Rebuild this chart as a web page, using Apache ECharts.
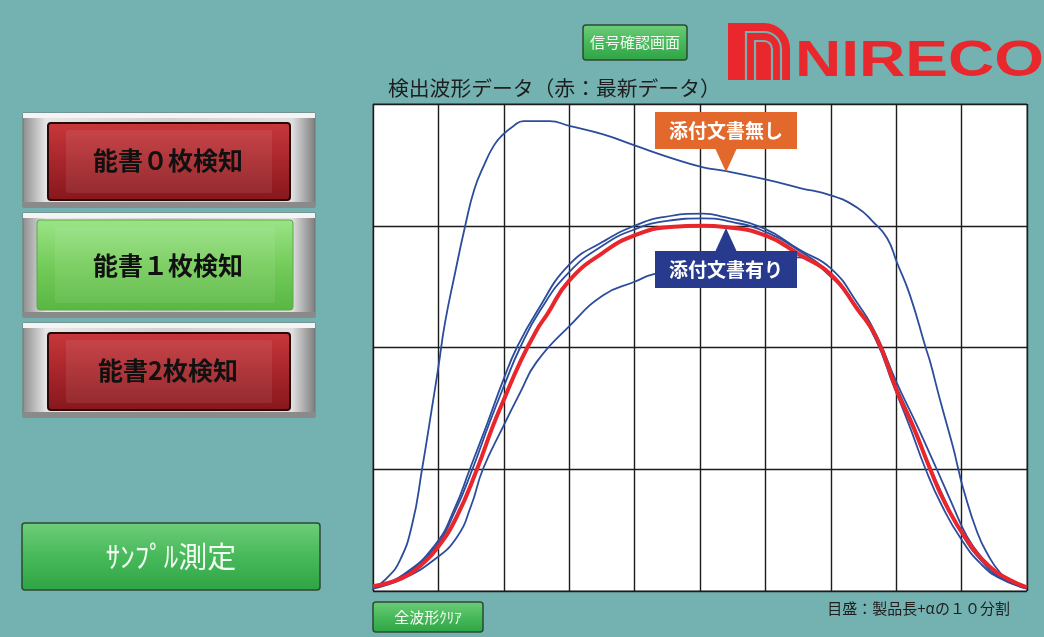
<!DOCTYPE html>
<html><head><meta charset="utf-8">
<script src="https://cdn.jsdelivr.net/npm/echarts@6/dist/echarts.min.js"></script>
<style>html,body{margin:0;padding:0;background:#73b2b1;}#c{width:1044px;height:637px;}</style>
</head><body><div id="c"></div>
<script>
// ---- data (x: 10 divisions of product length, y: 4 grid divisions) ----
const xDivisions = [0,1,2,3,4,5,6,7,8,9,10];
const yDivisions = [0,1,2,3,4];
const noAttachment = [[0,0.02],[0.2,0.1],[0.41,0.25],[0.6,0.55],[0.75,1.0],[0.9,1.5],[1.0,1.84],[1.1,2.2],[1.25,2.6],[1.41,3.0],[1.55,3.3],[1.7,3.5],[1.85,3.66],[1.99,3.75],[2.15,3.82],[2.3,3.86],[2.7,3.86],[3.0,3.82],[3.52,3.75],[4.0,3.66],[4.54,3.56],[5.05,3.48],[5.38,3.45],[6.0,3.38],[6.53,3.31],[7.0,3.25],[7.4,3.15],[7.65,3.03],[7.86,2.9],[8.01,2.7],[8.21,2.43],[8.45,2.0],[8.52,1.88],[8.67,1.57],[8.87,1.18],[8.95,1.0],[9.02,0.85],[9.24,0.48],[9.4,0.3],[9.59,0.15],[9.8,0.06],[10,0.02]];
const withAttachmentA = [[0,0.03],[0.45,0.13],[0.95,0.38],[1.25,0.68],[1.48,1.0],[1.75,1.38],[1.99,1.73],[2.2,2.0],[2.5,2.29],[3.0,2.68],[3.52,2.87],[4.0,3.0],[4.43,3.07],[5.05,3.1],[5.38,3.07],[5.97,2.98],[6.53,2.8],[7.0,2.65],[7.4,2.37],[7.7,2.1],[8.0,1.72],[8.3,1.38],[8.62,1.0],[8.85,0.72],[9.08,0.45],[9.3,0.28],[9.54,0.15],[9.8,0.06],[10,0.02]];
const withAttachmentB = [[0,0.03],[0.45,0.12],[0.95,0.36],[1.25,0.65],[1.52,1.0],[1.78,1.38],[2.0,1.68],[2.25,2.0],[2.55,2.3],[3.0,2.62],[3.52,2.84],[4.0,2.97],[4.5,3.04],[5.05,3.06],[5.5,3.03],[6.0,2.95],[6.5,2.8],[7.0,2.6],[7.4,2.33],[7.7,2.05],[7.95,1.7],[8.2,1.36],[8.45,1.0],[8.7,0.7],[9.0,0.42],[9.3,0.22],[9.6,0.1],[10,0.02]];
const withAttachmentC = [[0,0.02],[0.45,0.1],[0.92,0.25],[1.28,0.44],[1.5,0.7],[1.68,1.0],[1.99,1.35],[2.25,1.63],[2.5,1.88],[3.01,2.18],[3.52,2.43],[4.0,2.54],[4.28,2.6],[5.0,2.68],[5.6,2.72],[6.0,2.74],[6.5,2.74],[7.0,2.58],[7.4,2.32],[7.7,2.06],[8.0,1.68],[8.25,1.38],[8.5,1.04],[8.75,0.74],[9.0,0.47],[9.3,0.25],[9.6,0.11],[10,0.03]];
const latest = [[0,0.04],[0.46,0.11],[0.75,0.22],[0.98,0.35],[1.28,0.61],[1.59,1.0],[1.83,1.35],[2.0,1.57],[2.25,1.88],[2.5,2.14],[2.66,2.27],[3.0,2.55],[3.52,2.78],[4.0,2.92],[4.54,2.99],[5.05,3.0],[5.38,2.99],[6.0,2.92],[6.53,2.76],[7.0,2.6],[7.4,2.32],[7.7,2.08],[8.02,1.63],[8.26,1.35],[8.52,1.0],[8.75,0.72],[9.08,0.42],[9.43,0.2],[9.74,0.09],[10,0.03]];
const title = '検出波形データ（赤：最新データ）';
const scaleNote = '目盛：製品長+αの１０分割';
const labelNone = '添付文書無し';
const labelWith = '添付文書有り';
const buttons = ['能書０枚検知','能書１枚検知','能書2枚検知'];

const FONT = '"Noto Sans CJK JP", sans-serif';
const BG = '#73b2b1';
const LOGO = '#e8282c';
const blue = '#2c4c9c';
const chart = echarts.init(document.getElementById('c'), null, {renderer:'canvas'});

function blueSeries(d){
  return {type:'line', data:d, smooth:0.5, showSymbol:false, silent:true,
    lineStyle:{color:blue, width:1.8}, z:2};
}

function panelButton(y, h, active, text){
  const inner = active
    ? {type:'linear',x:0,y:0,x2:0,y2:1,colorStops:[{offset:0,color:'#9be487'},{offset:0.5,color:'#74cc5a'},{offset:1,color:'#58b742'}]}
    : {type:'linear',x:0,y:0,x2:0,y2:1,colorStops:[{offset:0,color:'#c8383c'},{offset:0.5,color:'#a8262b'},{offset:1,color:'#86171c'}]};
  const ix = active?37:48, iw = active?256:242, iy = y+(active?7:10), ih = h-(active?14:17);
  return [
    {type:'rect', shape:{x:23,y:y,width:292,height:h},
      style:{fill:{type:'linear',x:0,y:0,x2:1,y2:0,colorStops:[{offset:0,color:'#8c8c8c'},{offset:0.08,color:'#e6e6e6'},{offset:0.5,color:'#d0d0d0'},{offset:0.92,color:'#e0e0e0'},{offset:1,color:'#7c7c7c'}]}, stroke:'#777', lineWidth:1}},
    {type:'rect', shape:{x:23,y:y,width:292,height:5}, style:{fill:'#f4f4f4'}},
    {type:'rect', shape:{x:23,y:y+h-5,width:292,height:5}, style:{fill:'#8a8a8a'}},
    {type:'rect', shape:{x:ix,y:iy,width:iw,height:ih,r:3},
      style:{fill:inner, stroke:active?'#5aa848':'#2a0808', lineWidth:active?1:2}},
    {type:'rect', shape:{x:ix+18,y:iy+7,width:iw-36,height:ih-14,r:2},
      style:{fill:'rgba(255,255,255,0.08)'}},
    {type:'text', style:{text:text, x:168, y:y+h/2, align:'center', verticalAlign:'middle', fill:'#111', font:'bold 25px '+FONT}}
  ];
}

function greenBtn(x,y,w,h,text,size){
  return [
    {type:'rect', shape:{x:x,y:y,width:w,height:h,r:3},
      style:{fill:{type:'linear',x:0,y:0,x2:0,y2:1,colorStops:[{offset:0,color:'#6fcd7a'},{offset:0.5,color:'#47b95a'},{offset:1,color:'#2fa445'}]}, stroke:'#2c4a34', lineWidth:1.5}},
    {type:'text', style:{text:text, x:x+w/2, y:y+h/2, align:'center', verticalAlign:'middle', fill:'#f2fbf2', font:size+'px '+FONT}}
  ];
}

const logo = [
  {type:'rect', shape:{x:728,y:23,width:36,height:57}, style:{fill:LOGO}},
  {type:'sector', shape:{cx:764,cy:49,r0:0,r:26,startAngle:-Math.PI/2,endAngle:0,clockwise:true}, style:{fill:LOGO}},
  {type:'rect', shape:{x:764,y:49,width:26,height:31}, style:{fill:LOGO}},
  {type:'polyline', shape:{points:[[746,80],[746,32],[764,32]]}, style:{stroke:BG, lineWidth:2.2, fill:null}},
  {type:'arc', shape:{cx:764,cy:49,r:17,startAngle:-Math.PI/2,endAngle:0,clockwise:true}, style:{stroke:BG, lineWidth:2.2, fill:null}},
  {type:'line', shape:{x1:781,y1:49,x2:781,y2:80}, style:{stroke:BG, lineWidth:2.2}},
  {type:'polyline', shape:{points:[[755,80],[755,41],[764,41]]}, style:{stroke:BG, lineWidth:2.2, fill:null}},
  {type:'arc', shape:{cx:764,cy:49,r:8,startAngle:-Math.PI/2,endAngle:0,clockwise:true}, style:{stroke:BG, lineWidth:2.2, fill:null}},
  {type:'line', shape:{x1:772,y1:49,x2:772,y2:80}, style:{stroke:BG, lineWidth:2.2}},
  {type:'text', x:795, y:87, scaleX:1.28, style:{text:'NIRECO', x:0, y:0, verticalAlign:'bottom', fill:LOGO, font:'bold 50px "Liberation Sans", sans-serif'}}
];

const graphics = [].concat(
  panelButton(113,94,false,buttons[0]),
  panelButton(213,104,true,buttons[1]),
  panelButton(323,94,false,buttons[2]),
  greenBtn(22,523,298,67,'ｻﾝﾌﾟﾙ測定',29),
  greenBtn(373,602,110,30,'全波形ｸﾘｱ',15),
  greenBtn(583,25,104,35,'信号確認画面',15),
  logo,
  [
    {type:'text', style:{text:title, x:388, y:88, verticalAlign:'middle', fill:'#1e1e1e', font:'20.8px '+FONT}},
    {type:'text', style:{text:scaleNote, x:1010, y:608, align:'right', verticalAlign:'middle', fill:'#1e1e1e', font:'15px '+FONT}},
    {type:'rect', z:100, shape:{x:655,y:112,width:142,height:37}, style:{fill:'#e2692b'}},
    {type:'polygon', z:100, shape:{points:[[715,148],[737,148],[726,172]]}, style:{fill:'#e2692b'}},
    {type:'text', z:101, style:{text:labelNone, x:726, y:131, align:'center', verticalAlign:'middle', fill:'#fff', font:'bold 19px '+FONT}},
    {type:'rect', z:100, shape:{x:655,y:251,width:142,height:37}, style:{fill:'#283a8e'}},
    {type:'polygon', z:100, shape:{points:[[715,252],[737,252],[726,228]]}, style:{fill:'#283a8e'}},
    {type:'text', z:101, style:{text:labelWith, x:726, y:270, align:'center', verticalAlign:'middle', fill:'#fff', font:'bold 19px '+FONT}}
  ]
);

const axisCommon = {axisLabel:{show:false}, axisTick:{show:false}, axisLine:{show:false},
  splitLine:{show:true, lineStyle:{color:'#1c1c1c', width:1.4}}};

chart.setOption({
  backgroundColor:BG,
  animation:false,
  grid:{left:373, top:104, width:654, height:487, show:true, backgroundColor:'#ffffff', borderColor:'#444', borderWidth:1},
  xAxis:Object.assign({type:'value', min:xDivisions[0], max:xDivisions[xDivisions.length-1], interval:1}, axisCommon),
  yAxis:Object.assign({type:'value', min:yDivisions[0], max:yDivisions[yDivisions.length-1], interval:1}, axisCommon),
  series:[
    blueSeries(noAttachment),
    blueSeries(withAttachmentC),
    blueSeries(withAttachmentB),
    blueSeries(withAttachmentA),
    {type:'line', data:latest, smooth:0.5, showSymbol:false, silent:true, lineStyle:{color:'#e8262c', width:4}, z:3}
  ],
  graphic:{elements:graphics}
});
</script></body></html>
